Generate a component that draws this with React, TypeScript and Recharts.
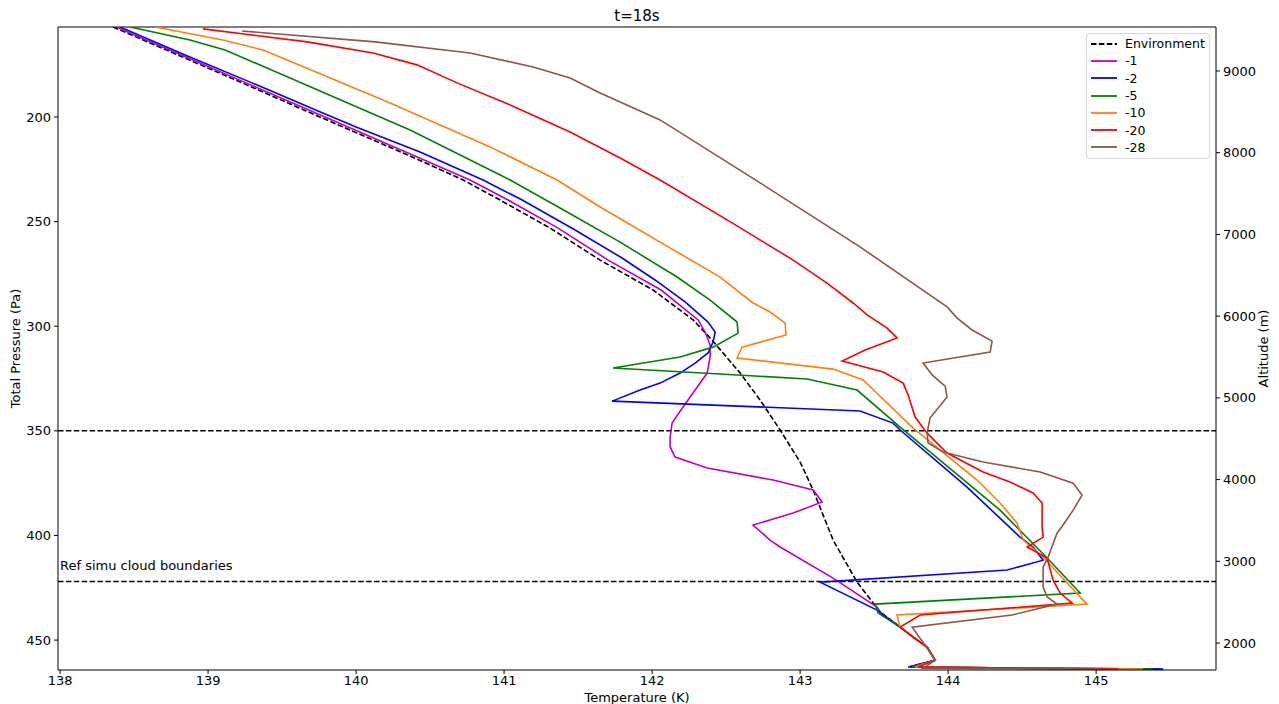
import { LineChart, Line, XAxis, YAxis, ReferenceLine, Legend } from 'recharts';

// temperature (K) / pressure (Pa) profiles at t=18s
const envT = [138.358, 138.797, 139.23, 139.662, 139.912, 140.318, 140.723, 140.973, 141.311, 141.649, 142.007, 142.277, 142.405, 142.595, 142.73, 142.865, 143.0, 143.088, 143.223, 143.385, 143.541, 143.676, 143.764, 143.858, 143.912, 143.73];
const envP = [157.0, 170.4, 183.7, 197.1, 204.8, 217.2, 230.1, 239.7, 253.1, 268.4, 282.7, 297.0, 306.6, 322.4, 335.3, 349.6, 364.9, 378.3, 402.2, 422.3, 436.6, 443.8, 448.6, 453.3, 459.6, 462.9];

const m1T = [138.378, 138.818, 139.257, 139.696, 139.946, 140.351, 140.77, 141.027, 141.365, 141.703, 142.061, 142.311, 142.358, 142.392, 142.392, 142.372, 142.291, 142.209, 142.135, 142.122, 142.122, 142.155, 142.372, 142.818, 143.088, 143.149, 142.953, 142.682, 142.797, 142.865, 143.223, 143.52, 143.554, 143.676, 143.764, 143.858, 143.912, 143.73, 145.432];
const m1P = [157.0, 170.4, 183.7, 197.1, 204.8, 217.2, 230.1, 239.7, 253.1, 268.4, 282.7, 297.0, 302.8, 309.0, 314.7, 322.4, 330.5, 338.6, 346.3, 353.0, 357.7, 362.5, 367.8, 373.5, 378.3, 384.0, 389.3, 395.0, 402.2, 405.5, 420.4, 434.2, 438.0, 443.8, 448.6, 453.3, 459.6, 462.9, 463.9];

const m2T = [138.405, 138.845, 139.297, 139.743, 140.0, 140.432, 140.858, 141.122, 141.48, 141.797, 142.02, 142.223, 142.378, 142.426, 142.412, 142.378, 142.291, 142.189, 142.054, 141.919, 141.73, 143.405, 143.628, 143.676, 144.128, 144.486, 144.574, 144.642, 144.399, 143.135, 143.52, 143.676, 143.764, 143.858, 143.912, 143.743, 145.453];
const m2P = [157.0, 170.4, 183.7, 197.1, 204.8, 216.7, 230.1, 239.7, 254.0, 267.4, 277.9, 288.4, 298.0, 302.8, 307.6, 312.8, 317.6, 322.4, 327.2, 330.5, 335.8, 340.5, 346.3, 349.6, 376.9, 400.8, 405.5, 411.8, 416.5, 422.3, 435.7, 443.8, 448.6, 453.3, 459.6, 462.9, 463.9];

const m5T = [138.473, 138.878, 139.115, 139.554, 139.959, 140.365, 140.703, 141.041, 141.378, 141.784, 142.169, 142.392, 142.574, 142.581, 142.412, 142.189, 141.736, 143.047, 143.385, 143.676, 144.351, 144.669, 144.892, 143.507, 143.527, 143.676, 143.764, 143.858, 143.912, 143.757, 145.385];
const m5P = [157.0, 163.2, 168.0, 181.4, 193.8, 206.2, 218.2, 230.1, 243.5, 259.8, 276.5, 287.5, 298.0, 303.3, 310.0, 314.7, 320.0, 325.2, 330.5, 348.2, 387.9, 410.8, 427.5, 432.8, 437.1, 443.8, 448.6, 453.3, 459.6, 462.9, 463.9];

const m10T = [138.642, 139.101, 139.372, 140.23, 140.905, 141.358, 141.649, 142.054, 142.459, 142.682, 142.797, 142.899, 142.905, 142.608, 142.574, 143.223, 143.426, 143.764, 144.196, 144.351, 144.466, 144.507, 144.642, 144.912, 144.939, 143.655, 143.676, 143.764, 143.858, 143.912, 143.777, 145.318];
const m10P = [157.0, 163.2, 168.0, 193.3, 214.3, 230.1, 243.0, 259.8, 276.5, 288.9, 293.2, 298.5, 304.2, 310.0, 315.2, 320.5, 325.7, 348.7, 373.5, 384.5, 394.1, 402.2, 410.3, 430.9, 432.8, 438.0, 443.8, 448.6, 453.3, 459.6, 462.9, 463.9];

const m20T = [138.966, 139.669, 140.115, 140.412, 140.682, 141.041, 141.446, 141.784, 142.054, 142.507, 142.953, 143.182, 143.358, 143.453, 143.588, 143.655, 143.439, 143.284, 143.561, 143.696, 143.73, 143.777, 143.858, 143.993, 144.236, 144.419, 144.574, 144.635, 144.635, 144.642, 144.534, 144.669, 144.709, 144.757, 144.838, 143.811, 143.676, 143.764, 143.858, 143.912, 143.797, 145.149];
const m20P = [157.9, 164.1, 169.4, 175.1, 183.7, 194.3, 207.2, 219.6, 230.1, 249.2, 268.4, 279.4, 288.9, 294.6, 300.9, 305.6, 311.4, 316.6, 321.9, 327.2, 332.9, 343.4, 351.1, 360.6, 369.7, 374.5, 379.7, 384.5, 396.0, 400.8, 405.5, 410.8, 421.3, 427.5, 432.3, 438.0, 443.8, 448.6, 453.3, 459.6, 462.9, 463.9];

const m28T = [139.23, 140.128, 140.77, 141.196, 141.446, 141.649, 142.054, 142.73, 143.405, 143.993, 144.061, 144.162, 144.297, 144.284, 143.831, 143.892, 143.98, 143.993, 143.878, 143.858, 143.865, 143.966, 144.236, 144.622, 144.845, 144.905, 144.845, 144.777, 144.736, 144.676, 144.642, 144.642, 144.669, 144.736, 144.432, 143.757, 143.858, 143.912, 143.831, 145.027];
const m28P = [158.9, 164.1, 169.4, 176.1, 181.4, 188.5, 201.4, 231.5, 262.1, 290.8, 296.1, 301.8, 307.1, 312.3, 317.6, 323.3, 328.6, 333.8, 343.9, 351.1, 355.8, 360.1, 364.9, 369.7, 375.0, 380.7, 387.9, 395.0, 398.9, 410.3, 415.1, 424.7, 429.4, 432.8, 438.0, 443.8, 453.8, 459.6, 463.4, 463.9];

const tempTicks = [138, 139, 140, 141, 142, 143, 144, 145];
const presTicks = [200, 250, 300, 350, 400, 450];
const altTicks = [2000, 3000, 4000, 5000, 6000, 7000, 8000, 9000];
const cloudBounds = [350, 422];

const tempDomain = [137.986, 145.81];
const presDomain = [157, 464.3];
const altDomain = [1670, 9538];

const zip = (t: number[], p: number[]) => t.map((v, i) => ({ t: v, p: p[i] }));

const series = [
  { name: 'Environment', data: zip(envT, envP), color: '#000000', dash: '5.5 2.4' },
  { name: '-1', data: zip(m1T, m1P), color: '#bf00bf' },
  { name: '-2', data: zip(m2T, m2P), color: '#0000ff' },
  { name: '-5', data: zip(m5T, m5P), color: '#008000' },
  { name: '-10', data: zip(m10T, m10P), color: '#ff7f0e' },
  { name: '-20', data: zip(m20T, m20P), color: '#ff0000' },
  { name: '-28', data: zip(m28T, m28P), color: '#8c564b' },
];

const FONT = "'DejaVu Sans', sans-serif";
const tickStyle = { fill: '#000', fontSize: 13 };

const LegendBox = () => (
  <div style={{ border: '1px solid #d6d6d6', borderRadius: 3, background: 'rgba(255,255,255,0.85)', padding: '1px 0 2px', fontFamily: FONT, fontSize: 12.5, color: '#000' }}>
    {series.map(s => (
      <div key={s.name} style={{ height: 17.3, display: 'flex', alignItems: 'center' }}>
        <svg width={38} height={10} style={{ flex: 'none' }}>
          <line x1={4} x2={30} y1={5} y2={5} stroke={s.color} strokeWidth={1.8} strokeDasharray={s.dash} />
        </svg>
        <span>{s.name}</span>
      </div>
    ))}
  </div>
);

export default function App() {
  return (
    <div style={{ position: 'absolute', left: 0, top: 0, width: 1279, height: 704, background: '#fff', fontFamily: FONT }}>
      <div style={{ position: 'absolute', left: 58, width: 1158, top: 7, textAlign: 'center', fontSize: 15, lineHeight: '18px' }}>t=18s</div>
      <LineChart width={1279} height={704} margin={{ top: 27, right: 0, bottom: 0, left: 0 }}>
        <XAxis xAxisId="x" type="number" dataKey="t" domain={tempDomain} allowDataOverflow ticks={tempTicks}
          height={34} tick={tickStyle} tickSize={4} tickMargin={2} stroke="#000"
          label={(props: any) => (
            <text x={props.viewBox.x + props.viewBox.width / 2} y={702} textAnchor="middle" fontSize={13} fill="#000">Temperature (K)</text>
          )} />
        <YAxis yAxisId="p" type="number" dataKey="p" domain={presDomain} allowDataOverflow reversed ticks={presTicks}
          width={58} tick={tickStyle} tickSize={4} tickMargin={3} stroke="#000"
          label={(props: any) => (
            <text x={20} y={props.viewBox.y + props.viewBox.height / 2} textAnchor="middle" fontSize={13} fill="#000"
              transform={`rotate(-90 20 ${props.viewBox.y + props.viewBox.height / 2})`}>Total Pressure (Pa)</text>
          )} />
        <YAxis yAxisId="alt" orientation="right" type="number" domain={altDomain} allowDataOverflow ticks={altTicks}
          width={63} tick={tickStyle} tickSize={4} tickMargin={3} stroke="#000"
          label={(props: any) => (
            <text x={1268} y={props.viewBox.y + props.viewBox.height / 2} textAnchor="middle" fontSize={13} fill="#000"
              transform={`rotate(-90 1268 ${props.viewBox.y + props.viewBox.height / 2})`}>Altitude (m)</text>
          )} />
        <ReferenceLine xAxisId="x" yAxisId="p" y={presDomain[0]} stroke="#000" strokeWidth={1} />
        {cloudBounds.map((b, i) => (
          <ReferenceLine key={b} xAxisId="x" yAxisId="p" y={b} stroke="#000" strokeWidth={1.5} strokeDasharray="5.5 2.4"
            label={i === 1 ? (props: any) => (
              <text x={props.viewBox.x + 2} y={props.viewBox.y - 11} fontSize={13} fill="#000">Ref simu cloud boundaries</text>
            ) : undefined} />
        ))}
        {series.map(s => (
          <Line key={s.name} xAxisId="x" yAxisId="p" data={s.data} dataKey="p" name={s.name} type="linear"
            stroke={s.color} strokeWidth={1.6} strokeDasharray={s.dash} dot={false} activeDot={false}
            isAnimationActive={false} />
        ))}
        <Legend layout="vertical" align="center" verticalAlign="middle" content={<LegendBox />}
          wrapperStyle={{ position: 'absolute', left: 1086, top: 33, width: 124, height: 'auto' }} />
      </LineChart>
    </div>
  );
}
